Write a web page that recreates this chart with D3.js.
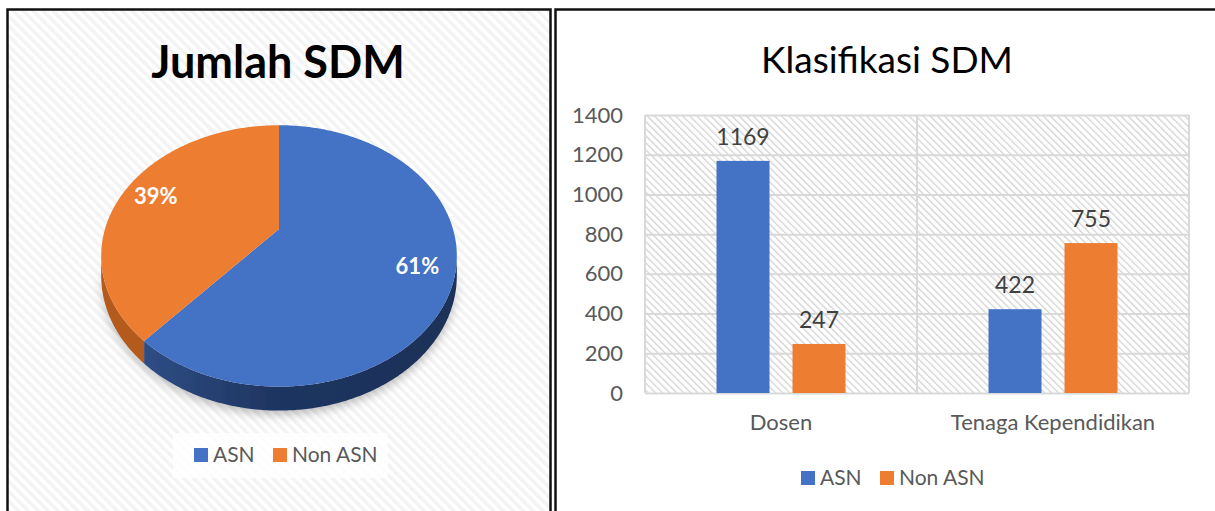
<!DOCTYPE html>
<html>
<head>
<meta charset="utf-8">
<script src="https://cdn.jsdelivr.net/npm/d3@7"></script>
<style>
  html, body { margin: 0; padding: 0; background: #fff; }
  svg { display: block; font-family: Lato, "Open Sans", sans-serif; }
</style>
</head>
<body>
<svg id="viz" width="1215" height="511"></svg>
<script>
// data
let categories = ['Dosen', 'Tenaga Kependidikan'];
let series = ['ASN', 'Non ASN'];
let asn_values = [1169, 422];
let non_asn_values = [247, 755];
let y_ticks = [0, 200, 400, 600, 800, 1000, 1200, 1400];
let colors = ['#4472c4', '#ed7d31'];
let side_colors = ['#1f3561', '#b35a1d'];
let pie_values = [d3.sum(asn_values), d3.sum(non_asn_values)];

const svg = d3.select('#viz');
const defs = svg.append('defs');

// light stripes behind the pie panel
defs.append('pattern')
    .attr('id', 'bgHatch')
    .attr('patternUnits', 'userSpaceOnUse')
    .attr('width', 7).attr('height', 7)
    .attr('patternTransform', 'rotate(-45)')
    .call(p => {
        p.append('rect').attr('width', 7).attr('height', 7).attr('fill', '#ffffff');
        p.append('rect').attr('width', 3.5).attr('height', 7).attr('fill', '#f3f3f3');
    });

// fine hatch inside the bar plot area
defs.append('pattern')
    .attr('id', 'plotHatch')
    .attr('patternUnits', 'userSpaceOnUse')
    .attr('width', 5).attr('height', 5)
    .attr('patternTransform', 'rotate(-45)')
    .call(p => {
        p.append('rect').attr('width', 5).attr('height', 5).attr('fill', '#ffffff');
        p.append('rect').attr('width', 1.3).attr('height', 5).attr('fill', '#d2d2d2');
    });

let grad = defs.append('linearGradient')
    .attr('id', 'blueSide')
    .attr('gradientUnits', 'userSpaceOnUse')
    .attr('x1', 140).attr('x2', 460).attr('y1', 0).attr('y2', 0);
grad.append('stop').attr('offset', 0).attr('stop-color', '#2f4e86');
grad.append('stop').attr('offset', 0.4).attr('stop-color', '#1f3662');
grad.append('stop').attr('offset', 1).attr('stop-color', '#1c3056');

defs.append('filter').attr('id', 'shadow')
    .attr('x', -0.2).attr('y', -0.2).attr('width', 1.4).attr('height', 1.5)
    .append('feDropShadow')
    .attr('dx', 0).attr('dy', 4).attr('stdDeviation', 5)
    .attr('flood-color', '#000').attr('flood-opacity', 0.25);

// ---------- left panel: pie ----------
svg.append('rect')
    .attr('x', 7.5).attr('y', 9.5).attr('width', 543).attr('height', 520)
    .attr('fill', 'url(#bgHatch)')
    .attr('stroke', '#111').attr('stroke-width', 2.5);

svg.append('text')
    .attr('x', 278).attr('y', 78)
    .attr('text-anchor', 'middle')
    .attr('font-size', 45).attr('font-weight', 'bold')
    .attr('fill', '#000')
    .text('Jumlah SDM');

// perspective tilt of the pie disc
const pie_cx = 279, pie_cy = 229, pie_a = 174, pie_d = 78, pie_g = -0.206, pie_h = 19;
function proj(ang, r, z) {
    let u = Math.sin(ang) * r, v = -Math.cos(ang) * r;
    let w = 1 + pie_g * v;
    return [pie_cx + pie_a * u / w, (pie_cy + pie_d * v + pie_h * z) / w];
}
function arc_pts(a0, a1, z) {
    let n = Math.max(2, Math.ceil(Math.abs(a1 - a0) / 0.01));
    return d3.range(n + 1).map(i => proj(a0 + (a1 - a0) * i / n, 1, z));
}

const arcs = d3.pie().sort(null)(pie_values);
const vis_lo = Math.acos(pie_g), vis_hi = 2 * Math.PI - Math.acos(pie_g);
const line = d3.line();

const pie_g_el = svg.append('g');
const sides = pie_g_el.append('g').attr('filter', 'url(#shadow)');
arcs.forEach((d, i) => {
    let lo = Math.max(d.startAngle, vis_lo), hi = Math.min(d.endAngle, vis_hi);
    if (lo >= hi) return;
    let pts = arc_pts(lo, hi, 0).concat(arc_pts(hi, lo, 1));
    sides.append('path')
        .attr('d', line(pts) + 'Z')
        .attr('fill', i === 0 ? 'url(#blueSide)' : side_colors[i]);
});

pie_g_el.append('g').selectAll('path')
    .data(arcs)
    .join('path')
    .attr('d', d => line([proj(0, 0, 0)].concat(arc_pts(d.startAngle, d.endAngle, 0))) + 'Z')
    .attr('fill', (d, i) => colors[i]);

const total = d3.sum(pie_values);
pie_g_el.append('g').selectAll('text')
    .data(arcs)
    .join('text')
    .attr('x', d => proj((d.startAngle + d.endAngle) / 2, 0.8, 0)[0])
    .attr('y', d => proj((d.startAngle + d.endAngle) / 2, 0.8, 0)[1])
    .attr('dy', '0.35em')
    .attr('text-anchor', 'middle')
    .attr('font-size', 22).attr('font-weight', 'bold')
    .attr('fill', '#fff')
    .text(d => Math.round(d.value / total * 100) + '%');

function legend(g, x0, y0) {
    let xs = [0, 79];
    series.forEach((s, i) => {
        g.append('rect')
            .attr('x', x0 + xs[i]).attr('y', y0 - 7)
            .attr('width', 14).attr('height', 14)
            .attr('fill', colors[i]);
        g.append('text')
            .attr('x', x0 + xs[i] + 19).attr('y', y0)
            .attr('dy', '0.35em')
            .attr('font-size', 21).attr('fill', '#595959')
            .text(s);
    });
}

svg.append('rect')
    .attr('x', 173).attr('y', 433).attr('width', 215).attr('height', 45)
    .attr('fill', '#fff').attr('opacity', 0.8);
legend(svg.append('g'), 194, 455);

// ---------- right panel: bars ----------
svg.append('rect')
    .attr('x', 555.5).attr('y', 9.5).attr('width', 700).attr('height', 520)
    .attr('fill', '#fff')
    .attr('stroke', '#111').attr('stroke-width', 2.5);

svg.append('text')
    .attr('x', 887).attr('y', 73)
    .attr('text-anchor', 'middle')
    .attr('font-size', 37).attr('fill', '#000')
    .text('Klasifikasi SDM');

const plot = {left: 645, right: 1189, top: 115, bottom: 393};
const y = d3.scaleLinear().domain([0, 1400]).range([plot.bottom, plot.top]);
const x0 = d3.scaleBand().domain(categories).range([plot.left, plot.right]);
const x1 = d3.scaleBand().domain(series).range([0, x0.bandwidth()])
    .paddingInner(0.3026).paddingOuter(0.941);

svg.append('rect')
    .attr('x', plot.left).attr('y', plot.top)
    .attr('width', plot.right - plot.left).attr('height', plot.bottom - plot.top)
    .attr('fill', 'url(#plotHatch)');

// horizontal gridlines
svg.append('g')
    .attr('transform', `translate(${plot.left},0)`)
    .call(d3.axisLeft(y).tickValues(y_ticks).tickSize(-(plot.right - plot.left)).tickFormat(''))
    .call(g => g.select('.domain').remove())
    .call(g => g.selectAll('line').attr('stroke', '#d9d9d9').attr('stroke-width', 2));

// vertical category separators
svg.append('g').selectAll('line')
    .data(categories.map(c => x0(c)).concat([plot.right]))
    .join('line')
    .attr('x1', d => d).attr('x2', d => d)
    .attr('y1', plot.top).attr('y2', plot.bottom)
    .attr('stroke', '#d9d9d9').attr('stroke-width', 2);

// y axis labels
svg.append('g')
    .attr('transform', `translate(${plot.left - 22},0)`)
    .call(d3.axisLeft(y).tickValues(y_ticks).tickSize(0).tickPadding(0).tickFormat(d3.format('d')))
    .call(g => g.select('.domain').remove())
    .call(g => g.selectAll('text')
        .attr('font-family', 'Lato, sans-serif')
        .attr('font-size', 22).attr('fill', '#595959'));

// x axis labels
svg.append('g')
    .attr('transform', `translate(0,${plot.bottom + 21})`)
    .call(d3.axisBottom(x0).tickSize(0).tickPadding(0))
    .call(g => g.select('.domain').remove())
    .call(g => g.selectAll('text')
        .attr('font-family', 'Lato, sans-serif')
        .attr('font-size', 22).attr('fill', '#595959'));

const rows = categories.map((c, i) => ({cat: c, vals: [asn_values[i], non_asn_values[i]]}));
const groups = svg.append('g').selectAll('g')
    .data(rows)
    .join('g')
    .attr('transform', d => `translate(${x0(d.cat)},0)`);

groups.selectAll('rect')
    .data(d => d.vals.map((v, i) => ({s: series[i], v: v, i: i})))
    .join('rect')
    .attr('x', d => x1(d.s))
    .attr('y', d => y(d.v))
    .attr('width', x1.bandwidth())
    .attr('height', d => y(0) - y(d.v))
    .attr('fill', d => colors[d.i]);

groups.selectAll('text')
    .data(d => d.vals.map((v, i) => ({s: series[i], v: v, i: i})))
    .join('text')
    .attr('x', d => x1(d.s) + x1.bandwidth() / 2)
    .attr('y', d => y(d.v) - 24)
    .attr('dy', '0.35em')
    .attr('text-anchor', 'middle')
    .attr('font-size', 23).attr('fill', '#404040')
    .text(d => d.v);

legend(svg.append('g'), 801, 478);
</script>
</body>
</html>
